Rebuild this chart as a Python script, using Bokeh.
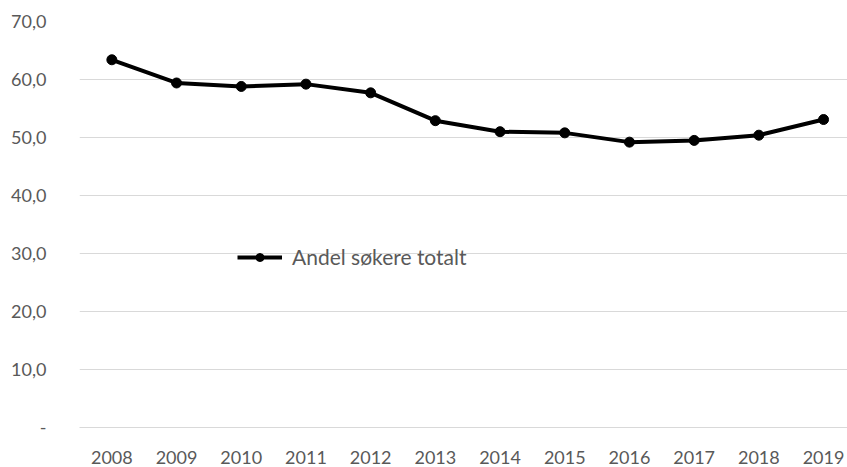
from bokeh.plotting import figure
from bokeh.models import Range1d, FixedTicker, Legend, LegendItem, ColumnDataSource
from bokeh.embed import file_html
from bokeh.resources import INLINE

years = [2008, 2009, 2010, 2011, 2012, 2013, 2014, 2015, 2016, 2017, 2018, 2019]
andel = [63.4, 59.4, 58.8, 59.2, 57.7, 52.9, 51.0, 50.8, 49.2, 49.5, 50.4, 53.1]
series_name = "Andel søkere totalt"
y_ticks = [0, 10, 20, 30, 40, 50, 60, 70]
y_tick_labels = ["-", "10,0", "20,0", "30,0", "40,0", "50,0", "60,0", "70,0"]

FONT = "Lato"
GREY = "#595959"

src = ColumnDataSource(dict(x=years, y=andel))

p = figure(width=847, height=467, output_backend="svg", toolbar_location=None,
           x_range=Range1d(2007.5, 2019.37), y_range=Range1d(0, 70),
           min_border_left=79, min_border_right=0, min_border_top=21, min_border_bottom=40)
p.outline_line_color = None
p.background_fill_color = "white"

line = p.line("x", "y", source=src, line_width=4, line_color="black", line_join="round")
dots = p.scatter("x", "y", source=src, size=10, fill_color="black", line_color="black")

p.xaxis.ticker = FixedTicker(ticks=years)
p.xaxis.major_label_overrides = {y: str(y) for y in years}
p.yaxis.ticker = FixedTicker(ticks=y_ticks)
p.yaxis.major_label_overrides = {t: l for t, l in zip(y_ticks, y_tick_labels)}

for ax in (p.xaxis[0], p.yaxis[0]):
    ax.axis_line_color = None
    ax.major_tick_line_color = None
    ax.minor_tick_line_color = None
    ax.major_label_text_font = FONT
    ax.major_label_text_font_size = "18px"
    ax.major_label_text_color = GREY
p.xaxis.axis_line_color = "#d9d9d9"
p.xaxis.axis_line_width = 1
p.xaxis.major_label_standoff = 17
p.yaxis.major_label_standoff = 27

p.xgrid.grid_line_color = None
p.ygrid.grid_line_color = "#d9d9d9"
p.ygrid.grid_line_width = 1

legend = Legend(items=[LegendItem(label=series_name, renderers=[line, dots])],
                location=(158, 158), orientation="horizontal")
legend.background_fill_alpha = 0
legend.border_line_color = None
legend.label_text_font = FONT
legend.label_text_font_size = "21px"
legend.label_text_color = GREY
legend.glyph_width = 45
legend.padding = 0
legend.spacing = 0
legend.label_standoff = 10
p.add_layout(legend)

open("out.html", "w").write(file_html(p, INLINE))
